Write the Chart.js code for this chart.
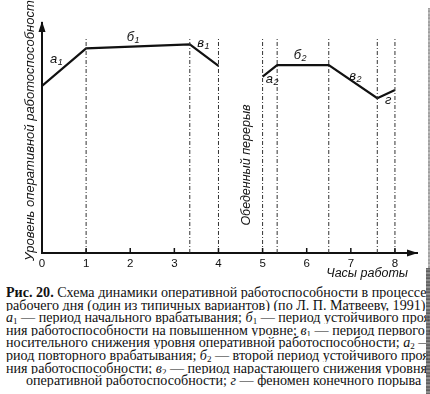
<!DOCTYPE html>
<html><head><meta charset="utf-8">
<script src="https://cdn.jsdelivr.net/npm/chart.js@4"></script>
<style>
html,body{margin:0;padding:0;background:#fff;width:430px;height:394px;overflow:hidden}
#wrap{position:relative;width:430px;height:394px;overflow:hidden}
#c{position:absolute;left:0;top:0}
#cap{position:absolute;left:6px;top:286px;width:424px;font-family:"Liberation Serif","DejaVu Serif",serif;font-size:14.1px;line-height:12.6px;color:#111}
#cap div{white-space:nowrap;overflow:hidden;height:12.6px}
#cap sub{font-size:9px;line-height:0;vertical-align:-2px}
#cap i{font-style:italic}
.edge{position:absolute;background:repeating-linear-gradient(180deg,#444 0px,#888 2px,#333 3px,#999 5px,#444 7px)}
#edge1{left:428px;top:8px;width:2px;height:262px;opacity:.55}
#edge2{left:426px;top:268px;width:4px;height:126px;opacity:.9}
</style></head>
<body><div id="wrap">
<canvas id="c" width="430" height="285"></canvas>
<div id="cap">
<div><b>Рис. 20.</b> Схема динамики оперативной работоспособности в процессе</div>
<div>рабочего дня (один из типичных вариантов) (по Л. П. Матвееву, 1991)</div>
<div><i>а</i><sub>1</sub> — период начального врабатывания; <i>б</i><sub>1</sub> — период устойчивого проявле-</div>
<div>ния работоспособности на повышенном уровне; <i>в</i><sub>1</sub> — период первого от-</div>
<div>носительного снижения уровня оперативной работоспособности; <i>а</i><sub>2</sub> — пе-</div>
<div>риод повторного врабатывания; <i>б</i><sub>2</sub> — второй период устойчивого проявле-</div>
<div>ния работоспособности; <i>в</i><sub>2</sub> — период нарастающего снижения уровня</div>
<div style="padding-left:20px">оперативной работоспособности; <i>г</i> — феномен конечного порыва</div>
</div>
<div id="edge1" class="edge"></div>
<div id="edge2" class="edge"></div>
</div>
<script>
// ---- data ----
const hourTicks = [0, 1, 2, 3, 4, 5, 6, 7, 8];
const morningX = [0, 1, 3.35, 4];
const morningY = [72.6, 89, 90.7, 81.4];
const afternoonX = [5, 5.33, 6.5, 7.6, 8];
const afternoonY = [76.7, 81.7, 81.7, 67.3, 70.9];
const boundaries = [1, 3.35, 4, 5, 5.33, 6.5, 7.6, 8];
const boundaryTop = 93.9;
const segLetters = ['а', 'б', 'в', 'а', 'б', 'в', 'г'];
const segIndex = ['1', '1', '1', '2', '2', '2', ''];
const yTitle = 'Уровень оперативной работоспособности';
const xTitle = 'Часы работы';
const breakLabel = 'Обеденный перерыв';

const pts = (xs, ys) => xs.map((x, i) => ({x: x, y: ys[i]}));
const INK = '#111';
const SANS = '"Liberation Sans", Arial, sans-serif';

const datasets = boundaries.map(b => ({
  data: [{x: b, y: 0}, {x: b, y: boundaryTop}],
  borderColor: '#333', borderWidth: 1, borderDash: [4, 2, 1, 2],
  pointRadius: 0, fill: false
}));
datasets.push({data: pts(morningX, morningY), borderColor: INK, borderWidth: 2.2, pointRadius: 0, tension: 0});
datasets.push({data: pts(afternoonX, afternoonY), borderColor: INK, borderWidth: 2.2, pointRadius: 0, tension: 0});

// label offsets (pixels) from each segment midpoint
const labelOffsets = [[-8, -8], [-5, -9], [-1, -12], [2, 9], [-3, -10], [2, -5], [2, 6]];

const deco = {
  id: 'deco',
  afterDraw(chart) {
    const ctx = chart.ctx, xs = chart.scales.x, ys = chart.scales.y, a = chart.chartArea;
    ctx.save();
    ctx.strokeStyle = INK; ctx.fillStyle = INK; ctx.lineWidth = 1.5;
    // tick marks
    hourTicks.slice(1).forEach(h => {
      const px = xs.getPixelForValue(h);
      ctx.beginPath(); ctx.moveTo(px, a.bottom); ctx.lineTo(px, a.bottom - 5); ctx.stroke();
    });
    // arrows
    const x0 = a.left;
    ctx.beginPath(); ctx.moveTo(x0, a.top - 2); ctx.lineTo(x0 - 3.5, a.top + 9); ctx.lineTo(x0 + 3.5, a.top + 9); ctx.closePath(); ctx.fill();
    const y0 = a.bottom;
    ctx.beginPath(); ctx.moveTo(a.right + 1, y0); ctx.lineTo(a.right - 10, y0 - 3.5); ctx.lineTo(a.right - 10, y0 + 3.5); ctx.closePath(); ctx.fill();
    // segment labels
    const segs = [];
    [[morningX, morningY], [afternoonX, afternoonY]].forEach(([X, Y]) => {
      for (let i = 0; i < X.length - 1; i++) segs.push([(X[i] + X[i + 1]) / 2, (Y[i] + Y[i + 1]) / 2]);
    });
    ctx.textBaseline = 'middle';
    segs.forEach((s, i) => {
      const cx = xs.getPixelForValue(s[0]) + labelOffsets[i][0];
      const cy = ys.getPixelForValue(s[1]) + labelOffsets[i][1];
      ctx.font = 'italic 13px ' + SANS;
      const w1 = ctx.measureText(segLetters[i]).width;
      ctx.font = 'italic 9px ' + SANS;
      const w2 = segIndex[i] ? ctx.measureText(segIndex[i]).width : 0;
      const left = cx - (w1 + w2) / 2;
      ctx.textAlign = 'left';
      ctx.font = 'italic 13px ' + SANS;
      ctx.fillText(segLetters[i], left, cy);
      if (segIndex[i]) {
        ctx.font = 'italic 9px ' + SANS;
        ctx.fillText(segIndex[i], left + w1 + 0.5, cy + 3);
      }
    });
    // titles
    ctx.font = 'italic 13px ' + SANS;
    ctx.textAlign = 'center';
    ctx.save(); ctx.translate(30, 127); ctx.rotate(-Math.PI / 2); ctx.fillText(yTitle, 0, 0); ctx.restore();
    ctx.font = 'italic 12.5px ' + SANS;
    ctx.save(); ctx.translate(247, 165); ctx.rotate(-Math.PI / 2); ctx.fillText(breakLabel, 0, 0); ctx.restore();
    ctx.font = 'italic 12.5px ' + SANS;
    ctx.textAlign = 'right';
    ctx.fillText(xTitle, 408, 274);
    ctx.restore();
  }
};

new Chart(document.getElementById('c'), {
  type: 'line',
  data: {datasets: datasets},
  options: {
    responsive: false, animation: false, devicePixelRatio: 1,
    layout: {padding: {top: 23, right: 13, left: 0, bottom: 0}},
    plugins: {legend: {display: false}, tooltip: {enabled: false}},
    scales: {
      x: {
        type: 'linear', min: 0, max: 8.5,
        grid: {display: false, drawTicks: false},
        border: {display: true, color: INK, width: 2},
        ticks: {stepSize: 1, includeBounds: false, padding: 4, color: INK,
          font: {size: 11.5, family: SANS},
          callback: v => hourTicks.includes(v) ? String(v) : ''},
        afterFit: s => { s.height = 32; }
      },
      y: {
        type: 'linear', min: 0, max: 100,
        grid: {display: false, drawTicks: false},
        border: {display: true, color: INK, width: 2},
        ticks: {display: false},
        afterFit: s => { s.width = 42; }
      }
    }
  },
  plugins: [deco]
});
</script>
</body></html>
